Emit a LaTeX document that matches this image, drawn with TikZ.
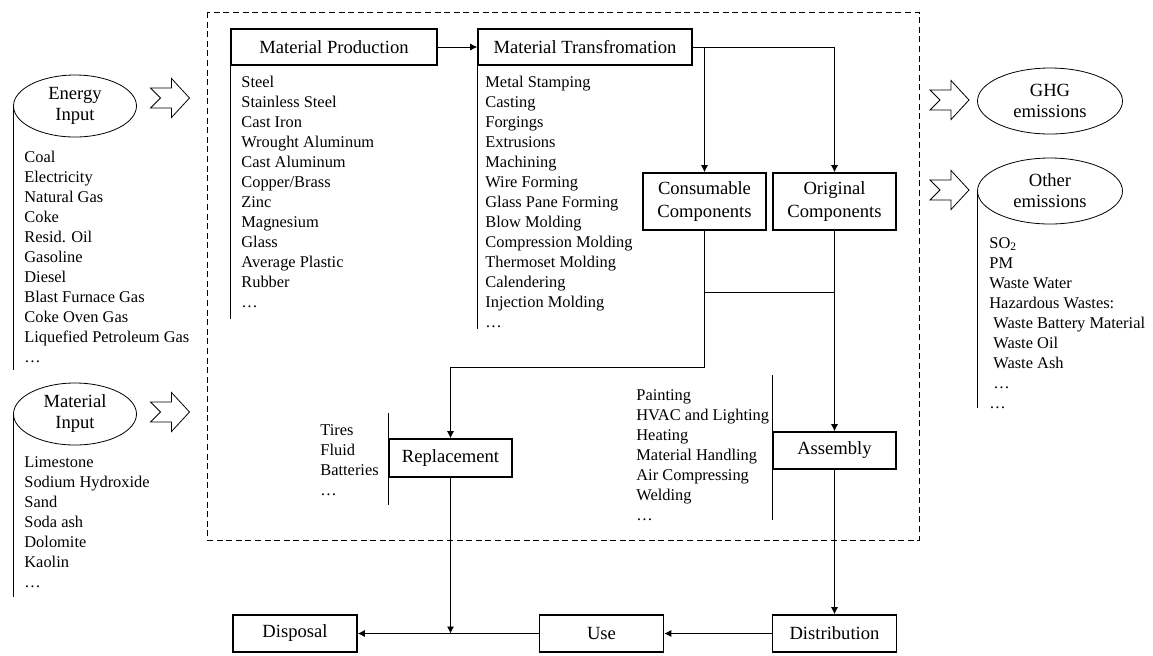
\documentclass[tikz,border=0pt]{standalone}
\usepackage{fontspec}
\setmainfont{Liberation Serif}
\usetikzlibrary{shapes.geometric,arrows.meta}
\newcommand{\titlefont}{\fontsize{9.3}{10.5}\selectfont}
\newcommand{\listfont}{\fontsize{8.2}{10}\selectfont}
\tikzset{
  procbox/.style={draw, line width=0.8pt, minimum width=61.5pt, minimum height=18.5pt, inner sep=1pt, font=\titlefont},
  flowtag/.style={draw, ellipse, inner sep=0pt, minimum width=61.5pt, minimum height=31pt, align=center, font=\titlefont},
  itemlist/.style={anchor=north west, inner sep=0pt, align=left, font=\listfont},
  flow/.style={-{Latex[length=3.5pt,width=3.5pt]}},
  fatarrow/.pic={\draw (-19.5,-10) -- (1.5,-10) -- (1.5,-19.5) -- (19.5,0) -- (1.5,19.5) -- (1.5,10) -- (-19.5,10) -- (-9.5,0) -- cycle;}
}
\begin{document}
\begin{tikzpicture}[x=0.5pt,y=-0.5pt]
	\useasboundingbox (0,0) rectangle (1153,655);
	% system boundary
	\draw[dash pattern=on 3pt off 1.8pt] (207,12) rectangle (919,540);

	% inputs
	\node[flowtag] (energy) at (75,106) {Energy\\Input};
	\node[flowtag] (matin) at (75,414) {Material\\Input};
	\draw (energy.west) -- ++(0,264);
	\draw (matin.west) -- ++(0,183);
	\node[itemlist] (energylist) at (24,151) {Coal\\Electricity\\Natural Gas\\Coke\\Resid. Oil\\Gasoline\\Diesel\\Blast Furnace Gas\\Coke Oven Gas\\Liquefied Petroleum Gas\\\dots};
	\node[itemlist] (matinlist) at (24,456) {Limestone\\Sodium Hydroxide\\Sand\\Soda ash\\Dolomite\\Kaolin\\\dots};
	\pic at (170,98) {fatarrow};
	\pic at (170,412) {fatarrow};

	% outputs
	\node[flowtag, minimum width=72.5pt, minimum height=33pt] (ghg) at (1050,101) {GHG\\emissions};
	\node[flowtag, minimum width=72.5pt, minimum height=33pt] (other) at (1050,191) {Other\\emissions};
	\draw (other.west) -- ++(0,217);
	\node[itemlist] (otherlist) at (989,237) {SO\textsubscript{2}\\PM\\Waste Water\\Hazardous Wastes:\\\hspace{2pt}Waste Battery Material\\\hspace{2pt}Waste Oil\\\hspace{2pt}Waste Ash\\\hspace{2pt}\dots\\\dots};
	\pic at (949.5,100) {fatarrow};
	\pic at (949.5,190) {fatarrow};

	% production chain
	\node[procbox, minimum width=103pt, minimum height=18pt] (mprod) at (334,47) {Material Production};
	\node[procbox, minimum width=107pt, minimum height=18pt] (mtrans) at (585,47) {Material Transfromation};
	\draw (mprod.south west) -- ++(0,253);
	\draw (mtrans.south west) -- ++(0,263);
	\node[itemlist] (mprodlist) at (241,76) {Steel\\Stainless Steel\\Cast Iron\\Wrought Aluminum\\Cast Aluminum\\Copper/Brass\\Zinc\\Magnesium\\Glass\\Average Plastic\\Rubber\\\dots};
	\node[itemlist] (mtranslist) at (485,76) {Metal Stamping\\Casting\\Forgings\\Extrusions\\Machining\\Wire Forming\\Glass Pane Forming\\Blow Molding\\Compression Molding\\Thermoset Molding\\Calendering\\Injection Molding\\\dots};

	\node[procbox, minimum height=28.5pt, align=center, font={\fontsize{9.3}{11.5}\selectfont}] (consum) at (704.5,201.5) {Consumable\\Components};
	\node[procbox, minimum height=28.5pt, align=center, font={\fontsize{9.3}{11.5}\selectfont}] (orig) at (834.5,201.5) {Original\\Components};
	\node[procbox, minimum height=19pt] (repl) at (450.5,458) {Replacement};
	\node[procbox] (assem) at (834.5,450.5) {Assembly};
	\draw (repl.west) ++(0,-45) -- ++(0,92);
	\draw (assem.west) ++(0,-75.5) -- ++(0,145);
	\node[itemlist] (repllist) at (320,424) {Tires\\Fluid\\Batteries\\\dots};
	\node[itemlist] (assemlist) at (636,389) {Painting\\HVAC and Lighting\\Heating\\Material Handling\\Air Compressing\\Welding\\\dots};

	% life cycle stages
	\node[procbox, minimum width=62pt] (disp) at (295,633.5) {Disposal};
	\node[procbox, minimum width=62pt] (use) at (601.5,633.5) {Use};
	\node[procbox, minimum width=62pt] (distr) at (834.5,633.5) {Distribution};

	% connectors
	\coordinate (link) at (0,292);
	\draw[flow] (mprod) -- (mtrans);
	\draw[flow] (mtrans.east) -| (orig.north);
	\draw[flow] (mtrans.east -| consum.north) -- (consum.north);
	\draw (consum.south |- link) -- (orig.south |- link);
	\draw[flow] (consum.south) -- ++(0,137) -| (repl.north);
	\draw[flow] (orig.south) -- (assem.north);
	\draw[flow] (assem.south) -- (distr.north);
	\draw[flow] (repl.south) -- (repl.south |- disp.east);
	\draw[flow] (distr.west) -- (use.east);
	\draw[flow] (use.west) -- (disp.east);
\end{tikzpicture}
\end{document}
